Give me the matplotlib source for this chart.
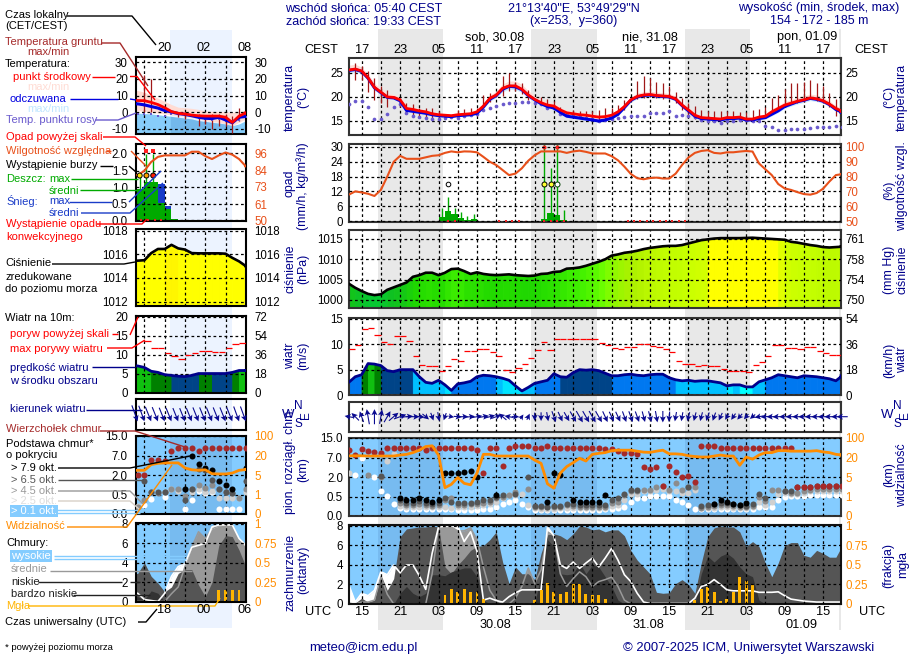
import numpy as np
import matplotlib
matplotlib.use('Agg')
import matplotlib.pyplot as plt
from matplotlib.colors import LinearSegmentedColormap

plt.rcParams['font.family'] = ['Liberation Sans', 'DejaVu Sans']
n = float('nan')

# ---------- main meteogram data (hourly, UTC hours counted from 30.08 00:00) ----------
hours = list(range(-11, 67))
temp_c = [25.6,25.8,25.4,24,22,21,20,19.9,19.4,17.6,17.4,17.1,16.9,16.5,16.3,16.2,16.1,16.3,16.4,16.5,16.9,18.1,19.7,20.4,21.8,22.3,22.3,21.6,20.4,19.5,18.8,18.3,18.1,17.3,16.7,16.5,16.3,16.2,16,15.8,15.9,16.2,16.9,18,19.4,20.1,20.4,20.5,20.3,20.2,20.1,19.6,18.3,17.3,16.2,15.7,15.6,15.5,15.4,15.7,15.7,15.8,15.4,15.4,15.8,16,16.9,17.6,18.3,18.7,19.1,19.4,19.8,19.6,19.2,18.5,17.6,17]
temp_f = [25.5,25.7,25.3,23.9,21.9,20.9,19.9,19.8,19.2,17.2,17,16.8,16.6,16.3,16.1,16,15.9,16.1,16.2,16.3,16.6,17.9,19.5,20.3,21.6,22.2,22.1,21.5,20.3,19.4,18.6,18,17.7,16.8,16,15.8,15.6,15.4,15.2,15,15.2,15.6,16.4,17.8,19.3,20,20.3,20.4,20.2,20.1,20,19.5,18.2,17.1,16,15.5,15.4,15.3,15.2,15.5,15.5,15.6,15.2,15.2,15.5,15.7,16.4,17.1,18,18.5,19,19.3,19.7,19.5,19.1,18.4,17.4,16.8]
temp_spread = [1,1,.8,.8,.8,.8,.7,.6,.6,.5,.4,.4,.4,.4,.3,.3,.3,.3,.4,.4,.5,.6,.7,.8,.9,1,1,1,.9,.8,.7,.6,.5,.5,.5,.5,.5,.5,.5,.5,.4,.4,.5,.6,.6,.7,.7,.7,.7,.7,.6,.6,.6,.5,.5,.4,.4,.4,.4,.4,.4,.4,.4,.4,.4,.5,.6,.6,.7,.7,.8,.8,.8,.8,.7,.7,.6,.6]
dew = [18.5,19.2,19.1,18,15.4,15.4,16.4,18,18.5,16.6,16.1,15.8,15.7,15.5,15.4,15.7,15.8,15.7,16,16.2,16.5,17.3,17.8,18.2,18.5,18.7,18.7,19,18.9,18.7,18.5,17.8,17.7,16.5,16.2,16,15.8,15.7,15.4,15,15.1,15.4,15.6,15.8,16,16.1,16.1,16.7,16.7,16.7,17,16.1,16.3,16,15.8,15.3,15,14.9,14.6,15,15,15.1,15.1,15,14.9,13.9,13.7,13.2,13.2,13.3,13.4,13.4,13.6,13.7,13.7,13.8,13.9,13.7]
ground_max = [n,27.1,26.4,25.4,24,22.2,21.5,20.8,19.7,18.7,18.5,17.8,17.6,17.6,17,17,17,17.3,17.5,17.6,17.6,20.4,20.8,20.8,24.4,25,23.2,22.9,21.5,20.5,19.9,19.5,19.2,18,17.5,17.2,17,17,17,17.2,17.6,17.6,18.3,19.4,22.2,23.4,24.4,23.9,23.2,22.9,22.3,21.1,19.7,18.7,18.2,17.3,17,17.1,17,17,17,16.9,16.9,17.3,17.4,18,19.7,20.4,21.6,22.9,22.9,23.2,23.6,22.9,22.3,20.9,19.5,n]
ground_min = [n,23.6,23.6,21.1,19.4,18.7,18,n,18,16.5,16.2,15.8,15.6,15.6,15.7,n,n,15.5,15.9,16,16,18,19,20,20.2,21.3,21.3,20.6,19.4,n,18.5,18,17.7,16.5,n,15.8,15.7,15.5,15.3,15,15,15.5,16.2,17.3,n,19.5,19.8,20,19.8,19.6,19.5,18.7,17.2,16.2,15.5,15.5,15.4,15.2,15.3,15.3,15.3,15.5,15.2,15.2,15.5,15.7,16.5,17,18,18.5,18.8,19,19.5,19.2,18.8,18,16,n]
rain_mean = [0]*14+[1.6,3.9,2.7,1.3,.5,.7]+[0]*10+[.7,3.2,2.3,.3]+[0]*44
rain_max = [n]*14+[5.4,9.8,5.4,3.8,2,2.7]+[n]*10+[31,21.6,31,4.3]+[n]*44
over_scale_hours = [19,21]
storm_yellow_hours = [19,20]
storm_open_hours = [21]
storm_white_hours = [4]
storm_level = 15
rain_event_hours = [4,5,12,13,14,15,19,20,21,22,32,33,34,35,36,37,38,39,40,41]
humid = [67.8,70,69.3,68.4,66.9,71,80,90,94,92,92,92,93,94,94.4,96,97,96.4,97,96.9,96.4,93.3,90,87.8,84.4,81,82,85.6,90.7,94.4,97,97,97,97,96,97,97.5,96.7,95.6,95.6,95.6,93.8,91,86.7,81.8,78.9,78.2,79,79.3,78.7,78.7,82,87.8,92.9,96,97.3,97.8,96,95.6,96.4,96.4,96.9,97.3,96.9,88.9,84.9,81,75,72,71,69.5,68.2,67.8,68.9,71.8,76.7,81,81.7]
press = [1004,1003,1002.2,1001.5,1001.2,1001.4,1002.5,1003.1,1003.7,1004.3,1005.7,1006.1,1006.7,1006.7,1006.1,1006.7,1007.6,1007.7,1007.1,1006.4,1006.8,1006.4,1006.2,1006.1,1006.2,1006.3,1006.1,1006,1005.9,1006,1006.4,1006.5,1006.9,1007,1007.7,1007.8,1008,1008.4,1008.9,1009.4,1010,1010.9,1011.2,1011.6,1011.8,1012.1,1012.5,1012.8,1013,1013.2,1013.3,1013.3,1013.5,1013.9,1014.3,1014.7,1014.9,1015.1,1015.2,1015.2,1015.2,1015.2,1015.25,1015.3,1015.2,1015.1,1015,1014.9,1014.8,1014.3,1014.1,1013.8,1013.5,1013.3,1013,1012.9,1013,1013.1]
wind = [2.5,3.6,4,6.2,6.1,5.8,4.8,4.6,5,5,5,3.6,2.5,2.3,2.9,2,.9,2.2,2.4,2.7,3.6,3.9,3.8,3.6,3.3,2.9,1.8,.8,1.5,2.3,2.6,2.9,4.2,3.6,3.5,4.4,5,4.9,5,4.8,4.3,3.8,3.8,4,4.1,3.9,3.8,4,4.1,4.1,3.4,3,2.8,2.9,2.7,2.8,2.8,2.6,2.4,1.8,2,2,1.6,1.6,2.6,3,3.4,4,3.8,3.6,3.4,3.8,3.7,3.6,3.4,3.2,2.8,3.8]
wind_band = [3,3,5,6,5,4,4,4,4,4,2,2,2,2,2,1,3,3,3,3,3,3,3,2,1,1,1,2,2,3,3,3,3,4,4,4,4,4,4,4,4,3,3,3,3,3,3,3,3,3,3,2,2,2,2,2,2,2,2,1,2,0,0,2,2,3,3,3,3,3,3,3,3,3,3,3,3,3]
gust = [9.1,9.8,13,13.3,11.8,10.4,10.1,11.6,11.6,10.6,7.7,5.9,5.7,5.7,4.7,5.7,7.1,6.7,8.7,8.7,9.1,9.1,8.5,7.7,4.9,4.5,5.3,6.1,7.3,8.9,10.4,8.9,11,11,11,11,11,11,11,10.2,9.9,9.2,9,9.5,9.5,10,10,9.6,9.4,9,8.5,6.7,6.1,6.1,5.7,5.9,5.7,5.7,5.1,4.7,4.7,4.7,4.5,5.9,6.5,7.7,9.9,9.9,9.2,9.2,9,9.4,9.4,8.7,8.3,7.9,7.9,7.9]
wind_from = [100,135,160,170,180,190,210,230,250,265,270,275,310,340,350,20,280,275,270,265,260,260,255,250,130,100,270,215,205,0,0,350,340,335,330,330,330,330,330,330,335,335,335,340,340,340,345,345,350,0,5,10,10,15,15,15,20,20,25,30,35,40,40,50,80,85,88,88,90,90,90,90,90,90,90,90,90,90]
nights = [(-6.45,3.67),(17.5,27.67),(41.5,51.67),(65.5,66)]

cb_top = [9.9,8.2,10.6,9.7,9.2,8.8,11,11,11,11,11,11,10,11,11,11,11,11,11,11,10,3,11,11,4.7,10.8,11.6,11.6,11.7,11,11,11.7,11,11,11,11,11,11,11,11,10.4,10.4,9.7,9,9,8.6,4.5,4,4.5,1.3,4.7,3.4,2.1,2.2,1.6,11.6,11.6,11.6,11,11,11,11,11,11,11,11,11,11,10.8,10.8,1.2,1.2,1.25,1.3,1.3,1.3,1.3,1.3]
cb_black = [n]*8+[.47,.4,.4,.45,.4,.36,.4,3.1,3.0,3.1,3.2,3.5,2.0,n,n,.6]+[n]*7+[.37,3.1,2.6,n,.4,.35,.36,.36,.36,.6]+[n]*16+[.32,.4,.36,.3,.28,.33]+[n]*15
cb_dark = [n,n,n,n,n,2.2,n,n,.4,.33,.33,.38,.33,.31,.33,.45,.36,.33,.33,.33,.36,.4,.4,.5,.6,n,.7,n,2,.25,.25,.24,.25,.25,.3,.3,.28,.28,.28,.28,.28,.4,.45,.7,1,1,n,n,n,n,n,n,n,1.2,n,.25,.27,.3,.33,.33,.3,.28,.25,.3,.7,.45,n,n,.9,.9,1.2,1.2,1.25,1.3,1.3,1.3,1.3,1.3]
cb_gray = [n,n,n,2.5,n,2,n,n,.33,.28,.28,.3,.28,.26,.28,.4,.45,.28,.28,.3,.3,.33,.36,.45,.5,.65,.85,n,1.1,.22,.22,.22,.22,.22,.28,.25,.24,.24,.24,.24,.24,.33,.36,.6,.9,.9,1,1,1.2,1.3,1,1.55,1,1.2,1.2,.2,.22,.25,.28,.28,.25,.24,.22,.26,.5,.38,1,1,.9,.8,.8,.9,1,1.1,1.1,1.1,1.1,1.1]
cb_light = [2.9,n,n,n,n,n,6,8.5,.25,.22,.22,.24,.22,.22,.22,.24,.2,.22,.22,.24,.25,.27,.3,.36,.45,.62,.62,.7,.28,.2,.19,.19,.19,.2,.2,.2,.2,.2,.2,.2,.2,.25,.28,.4,.7,.7,.9,.9,1,1.1,.9,.9,.8,.8,1,.2,.2,.2,.22,.22,.2,.2,.2,.22,.35,.28,.35,.7,.75,.7,.7,.8,.95,.95,.95,.95,.95,.95]
cb_white = [n,2.6,6.8,n,2.1,.95,.55,.3,.2,.18,.18,.18,.18,.18,.17,.17,.19,.16,.16,.16,.16,.17,.19,.24,.3,.36,.4,.3,.22,.16,.16,.16,.16,.16,.16,.16,.16,.16,.16,.16,.17,.19,.2,.22,.35,.45,.45,.55,.55,.55,.55,.4,.37,.28,.19,.17,.17,.17,.17,.17,.17,.17,.17,.17,.22,.22,.22,.4,.5,.52,.55,.55,.6,.6,.6,.6,.6,.6]
visib = [27,27,27,26,26,26,26,26,30,33,40,50,65,68,30,2.8,3.5,4.9,3.7,3.4,8,33,33,26,26,26,26,26,26,18,15.5,3.6,2.7,8,13,16,19.4,17.3,33,37,40,48,50,50,50,46,42,41,46,50,35,35,33,27,24,22,22,26,30,26,26,14,22,18.7,30,40,40,48,48,46,46,46,46,48,43,40,33,30]
cld_high = [1.95,.2,1.1,.85,1.4,3.3,3,4,3.2,4,4,2.9,1.5,5.2,7.9,8,8,8,6.4,7.4,5.4,.4,.6,.35,.2,.75,1.15,1.45,1.45,1.45,1.45,7.9,7,4,3.65,4.3,3.65,4.2,4.7,3.8,4.7,5.7,4.5,3,2.3,1.1,.2,.05,.05,.05,.05,.05,.05,.05,.6,1.8,2,2.5,2,1.45,1.35,1.35,1.35,1.35,1.2,1.2,1.2,1.25,.85,.5,.4,.3,.25,.2,.2,.2,.2,.2]
cld_mid = [0,0,.2,.2,.4,2.8,1,0,0,0,0,0,0,3.1,7.9,7.9,7.9,7.5,7.5,7.8,6.6,3.8,1.4,.4,0,0,.6,1.8,3.7,2.1,3.5,7.4,7,3.1,1.8,2.6,3.3,2.8,1.8,2.3,2.5,2.75,1.8,.4,0,0,0,0,0,0,0,0,0,0,0,0,0,0,0,0,0,0,0,0,0,0,0,0,0,0,0,0,0,0,0,0,0,0]
cld_low = [.2,.1,.6,.2,.4,3,1.4,2.6,6.9,7.7,7.8,7.9,7.9,8,7.9,3.8,3.1,4,4.7,5.5,5.9,6,6.6,7.4,4.3,2.1,3.8,3.1,3.1,2.5,5.2,7.1,7.2,7,6.6,7.2,8,7.9,7.6,7.7,7.4,7.6,7.6,7,5.5,4.5,3.8,3.1,1.2,1.1,1.15,2.1,2.5,2,1.1,4.2,6.9,7.8,8,7.9,7.9,7.4,5.9,6.4,5.9,4.2,2.8,4.2,6,6.3,6.3,5,4.8,5.5,5.2,4.8,4.8,6]
cld_vlow = [0,0,0,0,0,0,0,0,1.1,1.8,1.1,.75,1.1,3,3,2.9,3.3,3.5,3.7,3.7,2.8,.4,0,0,0,0,0,0,0,0,3.1,6.6,5.9,3.1,3,3.1,4.2,3.1,4,3.8,2.8,1.8,.4,0,0,0,0,0,0,0,0,0,0,0,0,3.1,4.9,4.3,4.9,5.2,4.7,3.8,3.1,2.8,.4,0,0,0,0,0,0,0,0,0,0,0,0,0]
mist = [0]*15+[.115,.19,.15,.19,.16,.15,.07]+[0]*7+[.05,.18,.265,.16,.13,.15,.26,.25,.13,.115,.115,.07]+[0]*13+[.05,.19,.22,.16,.04,.07,.15,.35,.29,.24]+[0]*14

# ---------- mini meteogram data (hourly, UTC hours) ----------
m_hours = list(range(14, 31))
m_temp = [7,6.9,5.9,4.6,2.7,.4,-.6,-1.1,-1.7,-2.1,-2.3,-2.3,-2.3,-3,-6.1,-2.3,-.4]
m_feel = [5,4.4,3.4,2.5,1,.2,-.8,-1.3,-2.1,-3,-3.6,-3.8,-3,-4.6,-6.3,-3,-2.5]
m_tmax = [13,12,10,8.4,6.5,4.6,3,2.7,2.3,1.7,.8,.5,.3,.2,0,.4,1]
m_tmin = [1,.5,0,-.5,-1,-1.5,-2,-2.5,-3,-4,-5,-5.5,-6,-7,-8,-6,-4]
m_fmax = [-.5,-.8,-1,-1.5,-2,-2.5,-3,-3.5,-4,-5,-5.5,-6,-6.5,-7,-8,-7,-5]
m_dew = [-1.1,-.8,-1.1,-2,-2.1,-.8,-1.1,-1.5,-2,-3.6,-4.2,-4.6,-4,-5.3,-5.1,-4.6,-3]
m_gmax = [n,22,20,n,n,n,0,0,n,-1,-1.5,-1,-1,-1,-2,2.5,1]
m_gmin = [n,0,0,n,n,n,-3,-4,n,-8,-7,-10,-8,-8,-12.5,-5,-3]
m_rain = [.95,1.15,1.15,.52,.33,.05]+[0]*11
m_snow = [0,0,0,.58,.1,0]+[0]*11
m_rmax = [1.45,2,2,n]+[n]*13
m_over_hours = [15,16]
m_storm = [14,15,16]
m_storm_colors = ['#ffe000','#ffa000','#ff2000']
m_storm_level = 1.35
m_event_hours = [14,15,16,17]
m_humid = [81,84,90,93.5,94.5,94.5,94.5,94.5,97,97,94,92,94.5,96.5,95,92,87]
m_press = [1015.46,1015.5,1016.1,1016.45,1016.45,1016.8,1016.5,1016.4,1016.1,1016.08,1016.08,1016.08,1016.08,1016.05,1015.7,1015.4,1015]
m_wind = [7,6.6,5.6,5.3,4.7,4.5,4.3,4.2,4.5,5,5,5,5,5,5.3,5.8,5.8]
m_wind_band = [6,6,5,5,5,4,4,4,4,5,5,4,4,4,5,6,6]
m_gust = [n,13.5,11.7,11.7,10.5,9.7,8.8,9.9,10.5,10.9,10.9,10.6,10.6,11.7,12.7,13,13]
m_from = [340,340,338,338,338,338,338,338,338,338,338,338,338,338,338,340,340]
m_top = [2,2,5.9,5.9,5.6,9,10,10,10,9,10,10,10,10,10,10,10]
m_black = [n]*7+[.91,7,4.7,3.9,3.2,1.55,1.25,.91,n,3.7]
m_dark = [n,1.55,.68,.68,.68,n,n,.35,.9,3.5,3.2,1.6,.9,.7,.65,n,1.55]
m_gray = [.18,.35,.7,.65,.7,.9,.9,.45,.9,1.2,1.0,1.2,.9,.7,.6,.4,.9]
m_light = [.2,n,n,n,.7,.9,.8,n,.7,.9,.7,.8,.4,.4,.4,.4,.7]
m_white = [n,.22,.39,n,.43,n,n,.13,.36,.8,.6,.7,.13,.13,.13,.13,n]
m_visib = [8.6,8.6,13,14,14.3,14.3,14.3,10.4,9,8.6,9,6,5.8,5.8,6.5,8.6,9.2]
m_high = [.85,.2,.1,0,.85,2.6,3.6,3.9,5.6,5.8,6,7.7,7.9,7.9,7.9,6.5,5.8]
m_mid = [0,0,0,0,0,.8,1.5,3.6,5.6,7.2,6.5,7.5,7.8,7.9,7.9,6.3,5.8]
m_low = [2.9,4,2.6,1.9,1,1.5,2.9,3.3,3.3,1.7,.5,2,5.8,6.8,6.7,5.3,3.6]
m_vlow = [.5,.2,1.1,.85,0,0,0,0,0,0,0,0,0,0,0,0,0]
m_mist = [0]*12+[.15,.15,.15,.15,0]
m_night = (18.83,28)

cb_ticks = [0,.5,2,7,15]
cb_labels = ['0.0','0.5','2.0','7.0','15.0']
vis_ticks = [0,1,5,20,100]
cloud_shades = ['#ffffff','#d0d0d0','#8c8c8c','#555555','#000000']
WIND_COLORS = ['#00ffff', '#00e4ff', '#00c0ff', '#0078f0', '#004488', '#008000', '#10c010']

# ---------- styling ----------
FS = 8.0
BLUE = '#00008b'
ORH = '#e8501a'
ORC = '#ff8c00'
SKY = '#84ccff'

fig = plt.figure(figsize=(9.1, 6.6), dpi=100, facecolor='white')

def axpx(x0, y0, x1, y1, **kw):
    return fig.add_axes([x0/910, 1-y1/660, (x1-x0)/910, (y1-y0)/660], **kw)

MAIN_X = (348.5, 841)
MINI_X = (135.5, 245.5)
MAIN_LIM = (-11.05, 65.8)
MINI_LIM = (13.68, 29.95)

# background night bands
b1 = axpx(MAIN_X[0], 29, MAIN_X[1], 630, zorder=0)
b1.set_xlim(*MAIN_LIM); b1.axis('off')
for a, b in nights:
    b1.axvspan(a, b, color='#e8e8e8', lw=0)
b1.axvspan(65.5, MAIN_LIM[1], color='#e8e8e8', lw=0)
b2 = axpx(MINI_X[0], 30, MINI_X[1], 628, zorder=0)
b2.set_xlim(*MINI_LIM); b2.axis('off')
b2.axvspan(*m_night, color='#ecf3ff', lw=0)

def panel(xr, xlim, ytop, ybot, ylim, lt, ll, rt, rl, rcolor='k', rlim=None, lcolor='k', main=True, lw=1.5, ecol='k'):
    ax = axpx(xr[0], ytop, xr[1], ybot, zorder=2)
    ax.patch.set_alpha(0)
    ax.set_xlim(*xlim); ax.set_ylim(*ylim)
    ax.set_yticks(lt, labels=ll)
    ax.tick_params(axis='y', length=0, pad=4 if main else 5.5, labelsize=FS+.3, labelcolor=lcolor)
    tw = ax.twinx()
    tw.set_zorder(3)
    tw.patch.set_alpha(0)
    tw.set_ylim(*(rlim or ylim))
    tw.set_yticks(rt, labels=rl)
    tw.tick_params(axis='y', length=0, pad=3 if main else 6.5, labelsize=FS+.3, labelcolor=rcolor)
    lo = int(np.ceil(xlim[0]/3)*3)
    tw.xaxis.set_visible(True)
    ax.xaxis.set_visible(False)
    tw.set_xticks(np.arange(lo, xlim[1]+.01, 3))
    tw.tick_params(axis='x', length=0, labelbottom=False, labeltop=False)
    tw.set_xlim(*xlim)
    tw.set_axisbelow(False)
    tw.grid(True, color='k', lw=0.9, ls=(0, (2.2, 2.2)))
    for sp in ax.spines.values():
        sp.set_visible(False)
    for sp in tw.spines.values():
        sp.set_linewidth(lw); sp.set_color(ecol)
    return ax, tw

def ext(x, y, xlim):
    return np.r_[xlim[0], x, xlim[1]], np.r_[y[0], y, y[-1]]

def draw_temp(ax, tw, x, xlim, c, f, hi, lo, fhi, flo, dw, gma, gmi, night=None, msize=7, marker='o'):
    xe, hie = ext(x, hi, xlim); _, loe = ext(x, lo, xlim)
    ax.fill_between(xe, loe, hie, color='#ffdcd4', lw=0, zorder=1)
    xe, fe = ext(x, fhi, xlim); _, fl = ext(x, flo, xlim)
    ax.fill_between(xe, fl, fe, color='#d2ecff' if night is None else '#87cdfa', lw=0, zorder=1.2)
    if night:
        mask = (xe >= night[0]-1) & (xe <= night[1]+1)
        xn = np.linspace(night[0], night[1], 60)
        ax.fill_between(xn, np.interp(xn, xe, fl), np.interp(xn, xe, fe), color='#1050a0', alpha=.16, lw=0, zorder=1.3)
    tw.vlines(x, gmi, gma, color='#a01818', lw=.9, zorder=3)
    tw.scatter(x, dw, s=msize, color='#6a5acd', marker=marker, lw=0, zorder=3.2)
    xe, fe = ext(x, f, xlim)
    tw.plot(xe, fe, color='#0000e0', lw=2.2, zorder=3.5)
    xe, ce = ext(x, c, xlim)
    tw.plot(xe, ce, color='#ff0000', lw=2.0, zorder=3.6)

def draw_pressure(ax, x, xlim, p):
    cm = LinearSegmentedColormap.from_list('p', [(0, '#00d040'), (3/17, '#10c020'), (6/17, '#20d800'), (8/17, '#40f000'), (10/17, '#70ff00'), (12/17, '#b0f000'), (13.5/17, '#c4ff00'), (14.8/17, '#d2ff00'), (15/17, '#ffff00'), (16.6/17, '#ffff00'), (1, '#ffc800')])
    xe, pe = ext(x, p, xlim)
    for i in range(len(xe)-1):
        v = (.5*(pe[i]+pe[i+1])-1000)/17
        col = cm(np.clip(v, 0, 1))
        ax.fill_between(xe[i:i+2], ax.get_ylim()[0], pe[i:i+2], facecolor=col, edgecolor=col, lw=.7, zorder=1, antialiased=False)
    return xe, pe

def draw_wind(ax, tw, x, xlim, w, bands, g, step=1):
    xe, we = ext(x, w, xlim)
    codes = [bands[0]]+list(bands)
    for i in range(len(xe)-1):
        col = WIND_COLORS[codes[i]]
        ax.fill_between(xe[i:i+2], 0, we[i:i+2], facecolor=col, edgecolor=col, lw=.7, zorder=1, antialiased=False)
    tw.plot(xe, we, color='#00008b', lw=2, zorder=3)
    x = np.asarray(x, float)
    tw.hlines(g, x, x+step*.95, color='#ff0000', lw=.9, zorder=3)

def draw_dir(tw, x, frm, w, vscale, pivot='mid', y0=0):
    th = np.deg2rad(frm)
    L = np.asarray(w)
    u, v = -np.sin(th)*L, -np.cos(th)*L
    tw.quiver(x, np.full(len(x), y0), u, v, units='dots', angles='uv', scale_units='dots', scale=vscale,
              width=1.1, headwidth=5.5, headlength=5.5, headaxislength=4.5, color='#0a0a90', pivot=pivot, zorder=3, clip_on=False)

def jscale(v):
    return np.interp(np.asarray(v, float), cb_ticks, [0, 1, 2, 3, 4])

def vscale(v):
    return np.interp(np.asarray(v, float), vis_ticks, [0, 1, 2, 3, 4])

def draw_base(ax, tw, x, xlim, top, black, dark, gray, light, white, vis, night, size=19):
    ax.set_facecolor(SKY); ax.patch.set_alpha(1)
    for a, b in night:
        ax.axvspan(a, b, color='#20508c', alpha=.13, lw=0, zorder=1)
    for ser, col in zip([white, light, gray, dark, black, top], cloud_shades+['#a52a2a']):
        tw.scatter(x, jscale(ser), s=size, color=col, lw=0, zorder=3)
    xe, ve = ext(x, vis, xlim)
    tw.plot(xe, vscale(ve), color=ORC, lw=2, zorder=3.5)

def draw_cover(ax, tw, x, xlim, hi, mi, lo, vl, mis, night, bw=.45):
    ax.set_facecolor(SKY); ax.patch.set_alpha(1)
    for a, b in night:
        ax.axvspan(a, b, color='#20508c', alpha=.13, lw=0, zorder=.5)
    xe, he = ext(x, hi, xlim)
    ax.fill_between(xe, 0, he, color='white', lw=0, zorder=1)
    xe, me = ext(x, mi, xlim)
    ax.fill_between(xe, 0, me, color='#999999', lw=0, zorder=1.1)
    xe, le = ext(x, lo, xlim)
    ax.fill_between(xe, 0, le, color='#555555', lw=0, zorder=1.2)
    xe, ve = ext(x, vl, xlim)
    ax.fill_between(xe, 0, ve, color='#333333', lw=0, zorder=1.3)
    xe, me = ext(x, mi, xlim)
    xe, he = ext(x, hi, xlim)
    tw.plot(xe, np.array(me)/8, color='#999999', lw=1.1, zorder=2.2)
    tw.plot(xe, np.array(he)/8, color='white', lw=1.2, zorder=2.3)
    tw.bar(x, mis, width=bw, color='#ffb400', lw=0, zorder=2.4)

t = np.array(hours, float)
mt = np.array(m_hours, float)
tc, tf, ts = map(np.array, (temp_c, temp_f, temp_spread))

# ---- main panels ----
ax, tw = panel(MAIN_X, MAIN_LIM, 57.5, 135, (12.08, 28.2), [15, 20, 25], ['15', '20', '25'], [15, 20, 25], ['15', '20', '25'], ecol='#333333')
draw_temp(ax, tw, t, MAIN_LIM, tc, tf, tc+ts, tc-ts*.6, tf+ts*.5, tf-ts*.6, dew, ground_max, ground_min)

ax, tw = panel(MAIN_X, MAIN_LIM, 144, 221.5, (-.2, 31.2), [0, 6, 12, 18, 24, 30], ['0', '6', '12', '18', '24', '30'],
               [50, 60, 70, 80, 90, 100], ['50', '60', '70', '80', '90', '100'], rcolor=ORH, rlim=(49.67, 102), ecol='#333333')
ax.bar(t+.5, rain_mean, width=1, color='#00aa00', lw=0, zorder=1)
ax.vlines(t+.5, 0, rain_max, color='#00aa00', lw=1.0, zorder=1.2)
ax.scatter(np.array(over_scale_hours)+.5, [30, 30], s=9, color='#ff2020', lw=0, zorder=1.3)
tw.plot(*ext(t, humid, MAIN_LIM), color=ORH, lw=1.5, zorder=3)
tw2 = ax.twinx(); tw2.set_zorder(4); tw2.patch.set_alpha(0); tw2.set_ylim(ax.get_ylim()); tw2.axis('off')
tw2.scatter(np.array(storm_yellow_hours)+.5, [storm_level]*2, s=13, color='#ffff30', edgecolors='k', lw=.7)
tw2.scatter(np.array(storm_open_hours)+.5, [storm_level], s=13, color='white', edgecolors='#004000', lw=.7)
tw2.scatter(np.array(storm_white_hours)+.5, [storm_level], s=11, color='white', edgecolors='k', lw=.7)
tw2.scatter(np.array(rain_event_hours)+.5, [0]*len(rain_event_hours), s=4, marker='s', color='#e82020', lw=0, clip_on=False)

ax, tw = panel(MAIN_X, MAIN_LIM, 230, 308, (998.03, 1017.2), [1000, 1005, 1010, 1015], ['1000', '1005', '1010', '1015'],
               [1000, 1005, 1010, 1015], ['750', '754', '758', '761'], ecol='#333333')
xe, pe = draw_pressure(ax, t, MAIN_LIM, press)
tw.plot(xe, pe, color='k', lw=1.9, zorder=3)

ax, tw = panel(MAIN_X, MAIN_LIM, 317.7, 395, (0, 15.25), [0, 5, 10, 15], ['0', '5', '10', '15'], [0, 5, 10, 15], ['0', '18', '36', '54'], ecol='#333333')
draw_wind(ax, tw, t, MAIN_LIM, wind, wind_band, gust)

ax, tw = panel(MAIN_X, MAIN_LIM, 401.7, 431.7, (-1, 1), [], [], [], [], ecol='#333333')
draw_dir(tw, t, wind_from, np.array(wind)+2.2, 0.55)

ax, tw = panel(MAIN_X, MAIN_LIM, 438, 516, (0, 4), [0, 1, 2, 3, 4], cb_labels, [0, 1, 2, 3, 4], ['0', '1', '5', '20', '100'], rcolor=ORC, ecol='#333333')
draw_base(ax, tw, t, MAIN_LIM, cb_top, cb_black, cb_dark, cb_gray, cb_light, cb_white, visib, nights[:3])

ax, tw = panel(MAIN_X, MAIN_LIM, 525, 604, (0, 8.1), [0, 2, 4, 6, 8], ['0', '2', '4', '6', '8'], [0, .25, .5, .75, 1], ['0', '0.25', '0.5', '0.75', '1'], rcolor=ORC, rlim=(0, 8.1/8), ecol='#111111')
draw_cover(ax, tw, t, MAIN_LIM, cld_high, cld_mid, cld_low, cld_vlow, mist, nights[:3])

# ---- mini panels ----
ax, tw = panel(MINI_X, MINI_LIM, 57, 134, (-13, 33), [-10, 0, 10, 20, 30], ['-10', '0', '10', '20', '30'], [-10, 0, 10, 20, 30], ['-10', '0', '10', '20', '30'], main=False)
m_low_edge = [-13]*17
draw_temp(ax, tw, mt, MINI_LIM, m_temp, m_feel, m_tmax, m_tmin, m_fmax, m_low_edge, m_dew, m_gmax, m_gmin, night=m_night, msize=4, marker='s')

ax, tw = panel(MINI_X, MINI_LIM, 144, 221, (-.02, 2.3), [0, .5, 1, 1.5, 2], ['0.0', '0.5', '1.0', '1.5', '2.0'],
               [50, 61, 73, 84, 96], ['50', '61', '73', '84', '96'], rcolor=ORH, rlim=(49.6, 102.3), main=False)
ax.bar(mt+.5, m_rain, width=1, color='#00aa00', lw=0, zorder=1.2)
ax.bar(MINI_LIM[0], m_rain[0], width=m_hours[0]-MINI_LIM[0], align='edge', color='#00aa00', lw=0, zorder=1.2)
ax.bar(mt+.5, m_snow, width=1, bottom=m_rain, color='#1a3cc8', lw=0, zorder=1.1)
ax.vlines(mt+.3, 0, m_rmax, color='#00aa00', lw=1.0, zorder=1.3)
tw.plot(*ext(mt, m_humid, MINI_LIM), color=ORH, lw=1.5, zorder=3)
tw2 = ax.twinx(); tw2.set_zorder(4); tw2.patch.set_alpha(0); tw2.set_ylim(ax.get_ylim()); tw2.axis('off')
tw2.scatter(np.array(m_over_hours)+.3, [2.1, 2.1], s=7, marker='s', color='#ff2020', lw=0)
tw2.scatter(np.array(m_storm)+.3, [m_storm_level]*3, s=13, c=m_storm_colors, edgecolors='k', lw=.7)
tw2.scatter(np.array(m_event_hours)+.5, [0]*4, s=3, marker='s', color='#e82020', lw=0, clip_on=False)

ax, tw = panel(MINI_X, MINI_LIM, 229.5, 306, (1011.62, 1018.1), [1012, 1014, 1016, 1018], ['1012', '1014', '1016', '1018'],
               [1012, 1014, 1016, 1018], ['1012', '1014', '1016', '1018'], main=False)
xe, pe = draw_pressure(ax, mt, MINI_LIM, m_press)
tw.plot(xe, pe, color='k', lw=1.9, zorder=3)

ax, tw = panel(MINI_X, MINI_LIM, 315.5, 392.5, (0, 20.3), [0, 5, 10, 15, 20], ['0', '5', '10', '15', '20'],
               [0, 5, 10, 15, 20], ['0', '18', '36', '54', '72'], main=False)
draw_wind(ax, tw, mt, MINI_LIM, m_wind, m_wind_band, m_gust)

ax, tw = panel(MINI_X, MINI_LIM, 398.5, 430, (-1, 1), [], [], [], [], main=False)
draw_dir(tw, mt, m_from, np.array(m_wind)+10, 1.0, pivot='tip', y0=-.45)

ax, tw = panel(MINI_X, MINI_LIM, 436, 514, (0, 4), [0, 1, 2, 3, 4], cb_labels, [0, 1, 2, 3, 4], ['0', '1', '5', '20', '100'], rcolor=ORC, main=False)
draw_base(ax, tw, mt, MINI_LIM, m_top, m_black, m_dark, m_gray, m_light, m_white, m_visib, [m_night])

ax, tw = panel(MINI_X, MINI_LIM, 523, 601.5, (0, 8.1), [0, 2, 4, 6, 8], ['0', '2', '4', '6', '8'], [0, .25, .5, .75, 1], ['0', '0.25', '0.5', '0.75', '1'], rcolor=ORC, rlim=(0, 8.1/8), main=False)
draw_cover(ax, tw, mt, MINI_LIM, m_high, m_mid, m_low, m_vlow, m_mist, [m_night], bw=.42)

# ---------- overlay for text ----------
ov = fig.add_axes([0, 0, 1, 1], zorder=10)
ov.set_xlim(0, 910); ov.set_ylim(660, 0); ov.axis('off'); ov.patch.set_alpha(0)

def T(x, y, s, color='k', ha='left', size=FS, rot=0, bg=None):
    kw = {}
    if bg:
        kw['bbox'] = dict(facecolor=bg, edgecolor='none', pad=1)
    ov.text(x, y, s, color=color, ha=ha, va='center', fontsize=size, rotation=rot, **kw)

def L(pts, color='k', lw=1.0):
    ov.plot([p[0] for p in pts], [p[1] for p in pts], color=color, lw=lw, solid_capstyle='butt')

# header
T(285, 8.5, 'wschód słońca: 05:40 CEST', BLUE, size=9)
T(363, 22, 'zachód słońca: 19:33 CEST', BLUE, ha='center', size=9)
T(574, 8.5, '21°13\'40"E, 53°49\'29"N', BLUE, ha='center', size=9)
T(574, 21, '(x=253,  y=360)', BLUE, ha='center', size=9)
T(819, 8.5, 'wysokość (min, środek, max)', BLUE, ha='center', size=9)
T(819, 21.5, '154 - 172 - 185 m', BLUE, ha='center', size=9)
T(495, 37, 'sob, 30.08', 'k', ha='center', size=9.2)
T(650, 37, 'nie, 31.08', 'k', ha='center', size=9.2)
T(807, 37, 'pon, 01.09', 'k', ha='center', size=9.2)
T(321, 50, 'CEST', 'k', ha='center', size=9.2)
T(871, 50, 'CEST', 'k', ha='center', size=9.2)
for i, lab in enumerate(['17', '23', '05', '11', '17', '23', '05', '11', '17', '23', '05', '11', '17']):
    T(361.7+i*38.45, 50, lab, ha='center', size=9.2)
for i, lab in enumerate(['15', '21', '03', '09', '15', '21', '03', '09', '15', '21', '03', '09', '15']):
    T(361.7+i*38.45, 612, lab, ha='center', size=9.2)
T(318, 612, 'UTC', ha='center', size=9.2)
T(872, 612, 'UTC', ha='center', size=9.2)
T(495, 625, '30.08', ha='center', size=9.2)
T(648, 625, '31.08', ha='center', size=9.2)
T(802, 625, '01.09', ha='center', size=9.2)
T(309, 648, 'meteo@icm.edu.pl', BLUE, size=9.4)
T(623, 648, '© 2007-2025 ICM, Uniwersytet Warszawski', BLUE, size=9.4)

# rotated axis titles
for x, y, s, sz in [(290, 97, 'temperatura', 8.9), (303, 97, '(°C)', 8.9), (290, 183, 'opad', 8.9), (303, 186, '(mm/h, kg/m³/h)', 8.9),
                    (290, 269, 'ciśnienie', 8.9), (303, 269, '(hPa)', 8.9), (290, 356, 'wiatr', 8.9), (303, 356, '(m/s)', 8.9),
                    (290, 461, 'pion. rozciągł. chm.', 8.9), (303, 470, '(km)', 8.9), (290, 572, 'zachmurzenie', 8.9), (303, 570, '(oktanty)', 8.9),
                    (902, 97, 'temperatura', 8.9), (889, 97, '(°C)', 8.9), (902, 186, 'wilgotność wzgl.', 8.9), (889, 190, '(%)', 8.9),
                    (902, 270, 'ciśnienie', 8.9), (889, 270, '(mm Hg)', 8.9), (902, 360, 'wiatr', 8.9), (889, 360, '(km/h)', 8.9),
                    (902, 475, 'widzialność', 8.9), (889, 475, '(km)', 8.9), (903, 565, 'mgła', 8.9), (888, 565, '(frakcja)', 8.9)]:
    ov.text(x, y, s, color=BLUE, rotation=90, ha='center', va='center', fontsize=sz)
# compass
for cx in (298, 897):
    T(cx-10, 415, 'W', BLUE, ha='center', size=9.5)
    T(cx, 406, 'N', BLUE, ha='center', size=8.5)
    T(cx, 424, 'S', BLUE, ha='center', size=8.5)
    ov.text(cx+8, 415, 'E', color=BLUE, rotation=90, ha='center', va='center', fontsize=8.5)

# local/utc labels of mini
for x, s in zip((164, 204, 244.5), ('20', '02', '08')):
    T(x, 48, s, ha='center', size=9.2)
for x, s in zip((164, 204, 244.5), ('18', '00', '06')):
    T(x, 610, s, ha='center', size=9.2)

RED = '#ff0000'; DRED = '#a52a2a'
# legend text
T(5, 15, 'Czas lokalny'); T(5, 26, '(CET/CEST)')
L([(67, 16), (132, 16), (156, 45)])
T(5, 42, 'Temperatura gruntu', DRED); T(27, 52, 'max/min', DRED)
L([(102, 43), (120, 43), (148, 86)], DRED)
T(5, 64, 'Temperatura:')
T(13, 76.5, 'punkt środkowy', RED); L([(92, 76.5), (115, 76.5)], RED); L([(130, 76.5), (137, 76.5), (155, 100)], RED)
T(27, 87, 'max/min', '#ffdcd4')
T(10, 98.5, 'odczuwana', '#0000e0'); L([(70, 99), (118, 99)], '#0000e0'); L([(130, 99), (136, 100)], '#0000e0')
T(27, 108.5, 'max/min', '#bfe6ff')
T(6, 120, 'Temp. punktu rosy', '#6a5acd'); L([(95, 120), (118, 120), (136, 113)], '#6a5acd')
T(6, 137, 'Opad powyżej skali', RED); L([(103, 137), (135, 137), (146, 146)], RED)
T(6, 151, 'Wilgotność względna', ORH); L([(106, 151), (111, 151)], ORH); L([(131, 151), (146, 166)], ORH)
T(6, 165.5, 'Wystąpienie burzy'); L([(100, 166), (113, 166)]); L([(129, 166), (136, 172)])
T(6, 179.5, 'Deszcz:', '#00aa00'); T(49, 179.5, 'max', '#00aa00'); L([(71, 179), (138, 179)], '#00aa00')
T(49, 190.5, 'średni', '#00aa00'); L([(80, 190), (150, 190)], '#00aa00')
T(6, 201, 'Śnieg:', '#1a3cc8'); T(49, 201, 'max', '#1a3cc8'); L([(69, 202), (112, 202)], '#1a3cc8'); L([(129, 202), (161, 171)], '#1a3cc8')
T(49, 212.5, 'średni', '#1a3cc8'); L([(81, 213), (130, 213), (163, 183)], '#1a3cc8')
T(6, 224, 'Wystąpienie opadu', RED); L([(97, 224), (142, 224), (147, 219)], RED)
T(6, 237, 'konwekcyjnego', RED)
T(5, 263, 'Ciśnienie'); L([(52, 264), (124, 264), (135, 262)])
T(5, 276.5, 'zredukowane'); T(5, 289.5, 'do poziomu morza')
T(5, 318, 'Wiatr na 10m:')
T(10, 334, 'poryw powyżej skali', RED); L([(112, 334), (118, 334)], RED); L([(130, 335), (138, 317)], RED)
T(10, 348.5, 'max porywy wiatru', RED); L([(107, 348), (132, 348), (145, 340)], RED)
T(10, 368, 'prędkość wiatru', '#00008b'); L([(92, 367), (135, 367)], '#00008b')
T(10, 381, 'w środku obszaru', '#00008b')
T(10, 409, 'kierunek wiatru', '#00008b'); L([(86, 410), (142, 410)], '#00008b')
T(6, 429, 'Wierzchołek chmur', DRED); L([(100, 431), (135, 431), (185, 447)], DRED)
T(6, 444, 'Podstawa chmur*'); T(6, 455.5, 'o pokryciu')
T(11, 468, '> 7.9 okt.'); L([(58, 468), (130, 468), (190, 456)], 'k')
T(11, 480, '> 6.5 okt.', '#555555'); L([(58, 480), (143, 480)], '#555555')
T(11, 491, '> 4.5 okt.', '#999999'); L([(58, 491), (130, 491), (143, 504)], '#999999')
T(11, 500.5, '> 2.5 okt.', '#dddddd'); L([(58, 501), (130, 501), (140, 510)], '#d8d0c8')
T(11, 511, '> 0.1 okt.', 'white', bg=SKY); L([(57, 510), (140, 510)], SKY); L([(57, 513), (140, 513)], SKY)
T(6, 526, 'Widzialność', ORC); L([(67, 527), (127, 527), (172, 465)], ORC)
T(6, 543, 'Chmury:')
T(11, 556, 'wysokie', 'white', bg=SKY); L([(54, 556), (186, 556)], SKY); L([(54, 559), (186, 559)], SKY)
T(11, 569, 'średnie', '#999999'); L([(50, 571), (192, 571)], '#999999')
T(11, 582, 'niskie', '#222222'); L([(38, 582), (122, 582)], '#222222'); L([(130, 582), (140, 582)], '#222222')
T(11, 594, 'bardzo niskie', '#222222'); L([(73, 595), (150, 595)], '#222222')
T(6, 606, 'Mgła', '#ffb400'); L([(28, 606), (215, 606), (220, 598)], '#ffb400')
T(5, 622, 'Czas uniwersalny (UTC)'); L([(138, 622), (146, 622), (157, 609)])
T(5, 648, '* powyżej poziomu morza', size=6.8)

fig.savefig('out.png', dpi=100)
